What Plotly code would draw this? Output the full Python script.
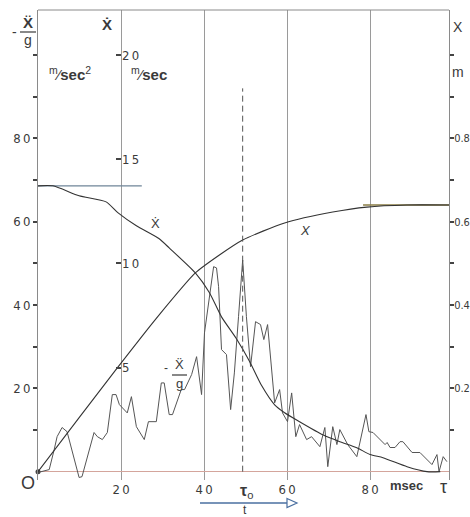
import plotly.graph_objects as go

# ---------------- data ----------------
# time in msec
acc_t = [0, 2.7, 3.9, 4.6, 5.8, 7.0, 9.9, 10.6, 13.5, 14.3, 15.5, 16.7, 17.9, 18.8,
         19.6, 21.5, 22.5, 23.7, 25.6, 26.6, 28.5, 29.7, 30.4, 31.6, 32.4, 34.5, 35.3,
         37.0, 38.2, 39.4, 40.1, 41.3, 42.3, 43.0, 43.5, 44.2, 44.9, 45.4, 46.4, 47.3,
         48.3, 49.3, 50.2, 51.2, 52.4, 53.6, 54.4, 55.3, 57.0, 58.2, 58.9, 60.1, 61.1,
         62.1, 63.0, 64.7, 65.9, 67.9, 69.1, 69.8, 71.0, 72.0, 72.7, 74.6, 76.8, 78.0,
         79.0, 79.7, 80.7, 83.6, 84.1, 84.8, 86.0, 87.2, 87.9, 90.1, 92.0, 94.9, 96.1,
         96.6, 97.6, 98.5]
# -x''/g
acc_val = [-0.2, 0.5, 5.3, 8.4, 10.6, 9.6, -1.4, -1.2, 9.4, 8.4, 7.7, 9.4, 18.5, 18.5,
           16.1, 14.1, 18.0, 10.8, 7.7, 12.0, 12.0, 21.3, 21.3, 13.7, 13.7, 19.7, 19.7,
           23.3, 27.6, 18.5, 33.3, 42.0, 49.2, 48.9, 44.4, 29.3, 28.5, 28.1, 14.9, 23.7,
           37.2, 50.8, 37.2, 25.2, 36.0, 35.3, 31.7, 35.3, 16.5, 19.7, 14.1, 12.0, 18.9,
           8.4, 11.3, 7.7, 8.4, 6.0, 10.6, 1.2, 10.8, 6.5, 10.1, 6.5, 3.6, 9.4,
           13.7, 9.6, 9.4, 6.5, 7.0, 5.8, 5.8, 7.2, 7.2, 4.6, 4.6, 1.7, 4.1,
           0.0, 3.6, 2.4]

# velocity x' (m/sec)
vel_t = [0, 3.6, 9.9, 16.4, 19.3, 23.7, 29.2, 31.6, 37.9, 41.3, 44.2, 47.8, 51.0, 53.9,
         57.0, 59.4, 63.0, 68.6, 72.7, 76.8, 80.0, 83.1, 88.9, 93.7, 96.9]
vel_val = [13.72, 13.72, 13.24, 12.95, 12.42, 11.80, 11.18, 10.74, 9.54, 8.59, 7.43, 6.38,
           5.28, 4.12, 3.21, 2.83, 2.40, 1.77, 1.44, 1.15, 0.82, 0.67, 0.24, 0.0, 0.0]

# displacement x (m)
disp_t = [0, 10.0, 19.1, 28.5, 37.9, 43.7, 49.3, 59.4, 71.0, 79.2, 88.9, 99.0]
disp_val = [0, 0.131, 0.249, 0.368, 0.477, 0.520, 0.556, 0.597, 0.623, 0.635, 0.640, 0.640]

# reference lines: initial velocity and final displacement
v0_t = [0, 25.0]
v0_val = [13.72, 13.72]
xf_t = [78.3, 99.0]
xf_val = [0.64, 0.64]

tau0 = 49.3            # msec
tau0_top = 92          # height of dashed line in -x''/g units

TS = "\u2009"
x_tickvals = [20, 40, 60, 80]
x_ticktext = ["2" + TS + "0", "4" + TS + "0", "6" + TS + "0", "8" + TS + "0"]
left_tickvals = [20, 40, 60, 80]
left_ticktext = ["2" + TS + "0", "4" + TS + "0", "6" + TS + "0", "8" + TS + "0"]
left_minor = [10, 30, 50, 70, 90, 100]
vel_tickvals = [5, 10, 15, 20]
vel_ticktext = ["5", "1" + TS + "0", "1" + TS + "5", "2" + TS + "0"]
disp_tickvals = [0.2, 0.4, 0.6, 0.8]
disp_ticktext = ["0.2", "0.4", "0.6", "0.8"]
disp_minor = [0.1, 0.3, 0.5, 0.7, 0.9, 1.0]

# ---------------- layout helpers ----------------
W, H = 470, 517
ML, MR, MT, MB = 38, 21, 10, 37
PW, PH = W - ML - MR, H - MT - MB


def P(px, py):
    """page pixel -> paper fraction"""
    return (px - ML) / PW, (H - MB - py) / PH


FONT = "DejaVu Sans Condensed, Liberation Sans Narrow, Arial Narrow, sans-serif"
BOLD = "Liberation Sans, DejaVu Sans, Arial, sans-serif"
INK = "#3a3a3a"

fig = go.Figure()

fig.add_trace(go.Scatter(x=v0_t, y=v0_val, yaxis="y3", mode="lines",
                         line=dict(color="#6f8598", width=1.1), hoverinfo="skip"))
fig.add_trace(go.Scatter(x=xf_t, y=xf_val, yaxis="y2", mode="lines",
                         line=dict(color="#8a7d45", width=1.3), hoverinfo="skip"))
fig.add_trace(go.Scatter(x=acc_t, y=acc_val, yaxis="y", mode="lines",
                         line=dict(color="#555", width=1.0), name="-x''/g"))
fig.add_trace(go.Scatter(x=vel_t, y=vel_val, yaxis="y3", mode="lines",
                         line=dict(color="#333", width=1.1, shape="spline", smoothing=0.6),
                         name="x'"))
fig.add_trace(go.Scatter(x=disp_t, y=disp_val, yaxis="y2", mode="lines",
                         line=dict(color="#333", width=1.1, shape="spline", smoothing=0.6),
                         name="x"))
fig.add_trace(go.Scatter(x=[0], y=[0], mode="markers", cliponaxis=False,
                         marker=dict(color="#444", size=5), hoverinfo="skip"))

YL = [-2, 110.8]
MINOR = dict(ticks="outside", ticklen=4, tickwidth=1.6, tickcolor="#444", showgrid=False)
fig.update_layout(
    width=W, height=H,
    margin=dict(l=ML, r=MR, t=MT, b=MB, autoexpand=False),
    paper_bgcolor="white", plot_bgcolor="white",
    showlegend=False,
    xaxis=dict(range=[0, 99], tickvals=x_tickvals, ticktext=x_ticktext,
               automargin=False,
               showgrid=True, gridcolor="#9a9a9a", gridwidth=0.8,
               zeroline=False, showline=False, ticks="",
               tickfont=dict(family=FONT, size=13, color=INK)),
    yaxis=dict(range=YL, tickvals=left_tickvals, ticktext=left_ticktext,
               minor=dict(tickvals=left_minor, **MINOR),
               automargin=False,
               showgrid=False, zeroline=True, zerolinecolor="#d4a59c", zerolinewidth=1.2,
               showline=True, linecolor="#8a8a8a", linewidth=1,
               ticks="outside", ticklen=4, tickwidth=1.6, tickcolor="#444",
               tickfont=dict(family=FONT, size=13, color=INK)),
    yaxis2=dict(range=[YL[0] / 100, YL[1] / 100], overlaying="y", side="right",
                anchor="x", tickvals=disp_tickvals, ticktext=disp_ticktext,
                minor=dict(tickvals=disp_minor, **MINOR),
                automargin=False, ticklabelstandoff=-2,
                showgrid=False, zeroline=False,
                showline=True, linecolor="#8a8a8a", linewidth=1,
                ticks="outside", ticklen=4, tickwidth=1.6, tickcolor="#444",
                tickfont=dict(family=FONT, size=11, color=INK)),
    yaxis3=dict(range=[YL[0] / 5, YL[1] / 5], overlaying="y", side="right",
                anchor="free", position=20 / 99, tickvals=vel_tickvals,
                automargin=False,
                ticktext=vel_ticktext, showgrid=False, zeroline=False, showline=False,
                ticks="inside", ticklen=5, tickwidth=1.6, tickcolor="#444",
                tickfont=dict(family=FONT, size=13, color=INK)),
)

shapes = []
# top frame line
shapes.append(dict(type="line", xref="paper", yref="paper", x0=0, x1=1, y0=1, y1=1,
                   line=dict(color="#8a8a8a", width=1)))
# tau0 dashed line
shapes.append(dict(type="line", xref="x", yref="y", x0=tau0, x1=tau0, y0=0, y1=tau0_top,
                   line=dict(color="#555", width=1, dash="6px,4px")))


def frac_line(x0, x1, y):
    a = P(x0, y)
    b = P(x1, y)
    shapes.append(dict(type="line", xref="paper", yref="paper", x0=a[0], x1=b[0],
                       y0=a[1], y1=b[1], line=dict(color=INK, width=1.2)))


frac_line(20, 36, 32)
frac_line(172, 187, 375)

# arrow under time axis
a0 = P(200, 503)
a1 = P(287, 503)
shapes.append(dict(type="line", xref="paper", yref="paper", x0=a0[0], x1=a1[0],
                   y0=a0[1], y1=a1[1], line=dict(color="#4a6fa0", width=1.4)))
t1, t2, t3 = P(287, 498.5), P(297, 503), P(287, 507.5)
shapes.append(dict(type="path", xref="paper", yref="paper",
                   path=f"M {t1[0]} {t1[1]} L {t2[0]} {t2[1]} L {t3[0]} {t3[1]} Z",
                   line=dict(color="#4a6fa0", width=1.2), fillcolor="white"))
fig.update_layout(shapes=shapes)

ann = []


def T(px, py, text, size=14, family=BOLD, color=INK):
    x, y = P(px, py)
    ann.append(dict(x=x, y=y, xref="paper", yref="paper", text=text, showarrow=False,
                    xanchor="center", yanchor="middle",
                    font=dict(family=family, size=size, color=color)))


# left axis title
T(14, 32, "-", 14)
T(28, 22, "<b>Ẍ</b>", 15)
T(28, 40, "g", 14)
T(70, 73, "<sup>m</sup>⁄<b>sec</b><sup>2</sup>", 15)
# velocity axis title
T(107, 24, "<b>Ẋ</b>", 15)
T(149, 73, "<sup>m</sup>⁄<b>sec</b>", 15)
# displacement axis title
T(458, 27, "X", 14)
T(458, 72, "m", 14)
# curve labels
T(155, 223, "Ẋ", 13)
T(305, 230, "<i>X</i>", 13)
T(166, 368, "-", 12)
T(179, 364, "Ẍ", 13)
T(179, 383, "g", 13)
# time axis labels
T(28, 483, "O", 18)
T(406, 486, "<b>msec</b>", 13)
T(443, 487, "τ", 18)
T(246, 491, "<b>τ</b><sub>o</sub>", 16)
T(245, 510, "t", 12)
fig.update_layout(annotations=ann)

fig.write_html(
    "out.html",
    config={"displayModeBar": False},
    post_script="document.body.style.margin='0';document.body.style.overflow='hidden';",
)
